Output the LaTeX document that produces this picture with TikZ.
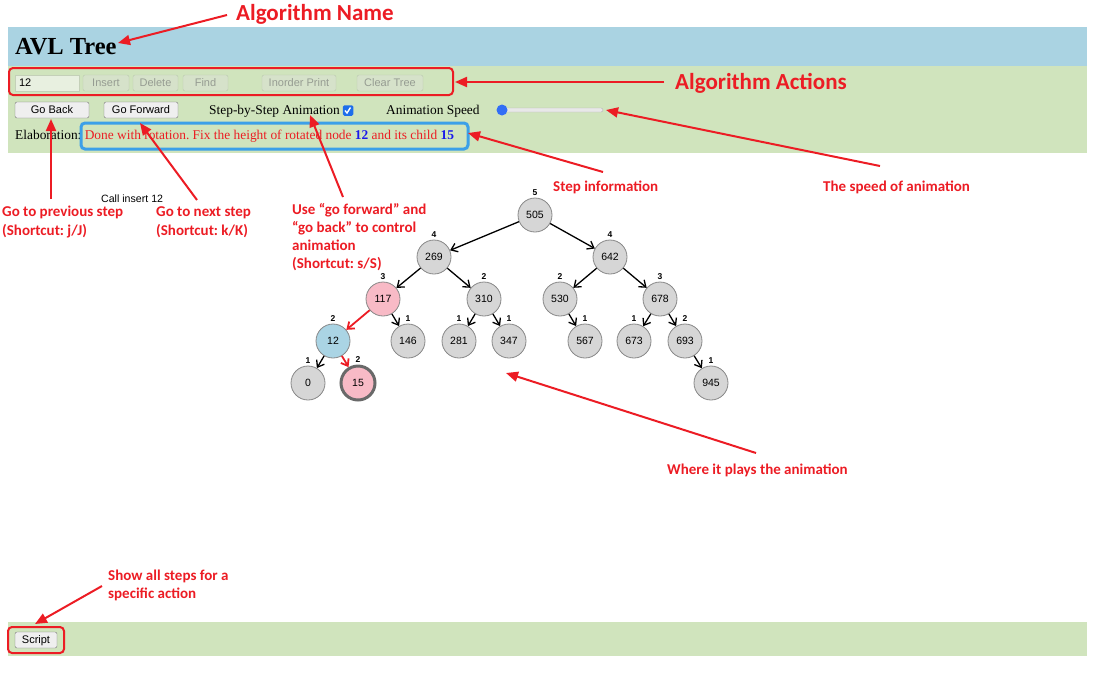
\documentclass[tikz,border=0pt]{standalone}
\usepackage{fontspec}
\setmainfont{Liberation Serif}
\setsansfont{Liberation Sans}
\newfontfamily\annotfont{Carlito}
\usetikzlibrary{arrows.meta,calc}

\definecolor{annred}{RGB}{236,28,36}
\definecolor{bandblue}{RGB}{170,211,226}
\definecolor{bandgreen}{RGB}{208,228,189}
\definecolor{boxblue}{RGB}{60,160,232}
\definecolor{nodegray}{RGB}{214,214,214}
\definecolor{nodeedge}{RGB}{135,135,135}
\definecolor{nodepink}{RGB}{248,186,198}
\definecolor{nodeblue}{RGB}{170,212,228}
\definecolor{btnfill}{RGB}{239,239,239}
\definecolor{btnedge}{RGB}{118,118,118}
\definecolor{disfill}{RGB}{214,226,202}
\definecolor{disedge}{RGB}{186,200,174}
\definecolor{distext}{RGB}{150,156,146}
\definecolor{fieldfill}{RGB}{232,240,224}
\definecolor{fieldedge}{RGB}{196,208,184}
\definecolor{elabred}{RGB}{235,30,35}
\definecolor{elabblue}{RGB}{25,25,235}
\definecolor{checkblue}{RGB}{30,110,235}
\definecolor{sliderblue}{RGB}{50,110,245}
\definecolor{trackfill}{RGB}{232,232,232}
\definecolor{trackedge}{RGB}{180,180,180}
\definecolor{thickedge}{RGB}{105,105,105}

\newcommand{\firststrut}{\rule{0pt}{12pt}}
\frenchspacing

\begin{document}
\begin{tikzpicture}[x=1pt,y=-1pt,
  ann/.style={text=annred, font=\annotfont\bfseries\fontsize{15}{18.3}\selectfont, inner sep=0pt, align=left},
  annbig/.style={text=annred, font=\annotfont\bfseries\fontsize{23}{27}\selectfont, inner sep=0pt},
  annarrow/.style={draw=annred, line width=2pt, -{Triangle[length=12pt,width=10pt]}},
  btn/.style={draw=btnedge, fill=btnfill, rounded corners=2pt, inner sep=0pt, minimum height=16pt,
    font=\sffamily\fontsize{11}{13}\selectfont, text height=8pt, text depth=0.5pt},
  disbtn/.style={draw=disedge, fill=disfill, rounded corners=2pt, inner sep=0pt, minimum height=16pt,
    text=distext, font=\sffamily\fontsize{11}{13}\selectfont, text height=8pt, text depth=0.5pt},
  redbox/.style={draw=annred, line width=2pt, rounded corners=4pt, inner sep=0pt},
  uitext/.style={inner sep=0pt, anchor=base west, font=\fontsize{13.4}{15}\selectfont},
  tn/.style={circle, draw=nodeedge, fill=nodegray, line width=0.8pt, minimum size=34pt, inner sep=0pt,
    font=\sffamily\fontsize{10.5}{12}\selectfont},
  hl/.style={font=\sffamily\bfseries\fontsize{8.5}{9}\selectfont, inner sep=0pt, label distance=1.5pt},
  te/.style={draw=black, line width=1.3pt, -{Straight Barb[length=6pt,width=9pt]}},
  tered/.style={draw=annred, line width=1.8pt, -{Straight Barb[length=6pt,width=9pt]}}
]
\useasboundingbox (0,0) rectangle (1115,678);

% bands
\fill[bandblue] (8,27) rectangle (1087,66);
\fill[bandgreen] (8,66) rectangle (1087,153);
\fill[bandgreen] (8,622) rectangle (1087,656);

% title
\node[inner sep=0pt, anchor=base west, font=\bfseries\fontsize{24.5}{27}\selectfont] (title) at (15,54.5) {AVL Tree};

% action row
\node[draw=fieldedge, fill=fieldfill, inner xsep=4pt, inner ysep=0pt, text width=56pt, align=left,
  minimum height=16pt, font=\sffamily\fontsize{11}{13}\selectfont, text height=8pt, text depth=0.5pt] (field) at (47,83) {12};
\node[disbtn, minimum width=46pt] (insert) at (106,83) {Insert};
\node[disbtn, minimum width=45pt] (delete) at (155.5,83) {Delete};
\node[disbtn, minimum width=45pt] (find) at (205.5,83) {Find};
\node[disbtn, minimum width=74pt] (inorder) at (299,83) {Inorder Print};
\node[disbtn, minimum width=66pt] (clear) at (390,83) {Clear Tree};
\node[redbox, minimum width=444pt, minimum height=27pt] (actbox) at (231,81.5) {};

% control row
\node[btn, minimum width=74pt] (goback) at (52,110) {Go Back};
\node[btn, minimum width=74pt] (gofwd) at (141,110) {Go Forward};
\node[uitext] (steptxt) at (209,114.5) {Step-by-Step Animation};
\node[fill=checkblue, rounded corners=1.5pt, minimum size=10.5pt, inner sep=0pt] (chk) at (348,110.5) {};
\draw[white, line width=1.4pt] ($(chk.center)+(-3,0)$) -- ++(2,2.5) -- ++(3.5,-5.5);
\node[uitext] (speedtxt) at (386,114.5) {Animation Speed};
\draw[fill=trackfill, draw=trackedge, rounded corners=2pt] (502,108) rectangle (603,112);
\node[circle, fill=sliderblue, minimum size=11pt, inner sep=0pt] (knob) at (502,110) {};

% elaboration
\node[uitext] (elab) at (15,139.5) {Elaboration: \textcolor{elabred}{Done with rotation. Fix the height of rotated node} \textcolor{elabblue}{\textbf{12}} \textcolor{elabred}{and its child} \textcolor{elabblue}{\textbf{15}}};
\node[draw=boxblue, line width=3pt, rounded corners=4pt, inner sep=0pt, minimum width=387pt, minimum height=26pt] (infobox) at (274.5,136) {};

% bottom
\node[btn, minimum width=42pt] (script) at (36,640) {Script};
\node[redbox, minimum width=56pt, minimum height=26pt] (scriptbox) at (36,640) {};

% call text
\node[inner sep=0pt, anchor=base west, font=\sffamily\fontsize{10.6}{12}\selectfont] (call) at (101,202) {Call insert 12};

% tree
\foreach \n/\x/\y/\h in {505/535/215/5, 269/434/257/4, 642/610/257/4, 310/484/299/2, 530/560/299/2,
  678/660/299/3, 146/408/341/1, 281/459/341/1, 347/509/341/1, 567/585/341/1, 673/634/341/1,
  693/685/341/2, 0/308/383/1, 945/711/383/1}
  \node[tn, label={[hl]90:\h}] (n\n) at (\x,\y) {\n};
\node[tn, fill=nodepink, label={[hl]90:3}] (n117) at (383,299) {117};
\node[tn, fill=nodeblue, label={[hl]90:2}] (n12) at (333,341) {12};
\node[tn, fill=nodepink, draw=thickedge, line width=3pt, label={[hl]90:2}] (n15) at (358,383) {15};

\foreach \a/\b in {505/269, 505/642, 269/117, 269/310, 117/146, 310/281, 310/347, 642/530, 642/678,
  530/567, 678/673, 678/693, 12/0, 693/945}
  \draw[te] (n\a) -- (n\b);
\draw[tered] (n117) -- (n12);
\draw[tered] (n12) -- (n15);

% annotations
\node[annbig, anchor=base west] (annName) at (236,20) {Algorithm Name};
\node[annbig, anchor=base west] (annAct) at (675,89) {Algorithm Actions};
\node[ann, anchor=base west] (annStep) at (553,191) {Step information};
\node[ann, anchor=base west] (annSpeed) at (823,191) {The speed of animation};
\node[ann, anchor=north west] (annPrev) at (2,204.5) {\firststrut Go to previous step\\(Shortcut: j/J)};
\node[ann, anchor=north west] (annNext) at (156,204.5) {\firststrut Go to next step\\(Shortcut: k/K)};
\node[ann, anchor=north west] (annUse) at (292,201.8) {\firststrut Use “go forward” and\\“go back” to control\\animation\\(Shortcut: s/S)};
\node[ann, anchor=base west] (annPlay) at (667,474) {Where it plays the animation};
\node[ann, anchor=north west] (annShow) at (108,567.8) {\firststrut Show all steps for a\\specific action};

% arrow end points
\coordinate (sName) at (227,15);   \coordinate (tName) at (118,43);
\coordinate (sAct) at (664,82);    \coordinate (tAct) at (455,82);
\coordinate (sStep) at (603,172);  \coordinate (tStep) at (468,133);
\coordinate (sSpeed) at (880,166); \coordinate (tSpeed) at (606,110);
\coordinate (sPrev) at (51,199);   \coordinate (tPrev) at (51,119);
\coordinate (sNext) at (197,200);  \coordinate (tNext) at (140,123);
\coordinate (sUse) at (343,197);   \coordinate (tUse) at (310,115);
\coordinate (sPlay) at (756,453);  \coordinate (tPlay) at (506,373);
\coordinate (sShow) at (102,586);  \coordinate (tShow) at (35,624);

\draw[annarrow] (sName) -- (tName);
\draw[annarrow] (sAct) -- (tAct);
\draw[annarrow] (sStep) -- (tStep);
\draw[annarrow] (sSpeed) -- (tSpeed);
\draw[annarrow] (sPrev) -- (tPrev);
\draw[annarrow] (sNext) -- (tNext);
\draw[annarrow] (sUse) -- (tUse);
\draw[annarrow] (sPlay) -- (tPlay);
\draw[annarrow] (sShow) -- (tShow);
\end{tikzpicture}
\end{document}
